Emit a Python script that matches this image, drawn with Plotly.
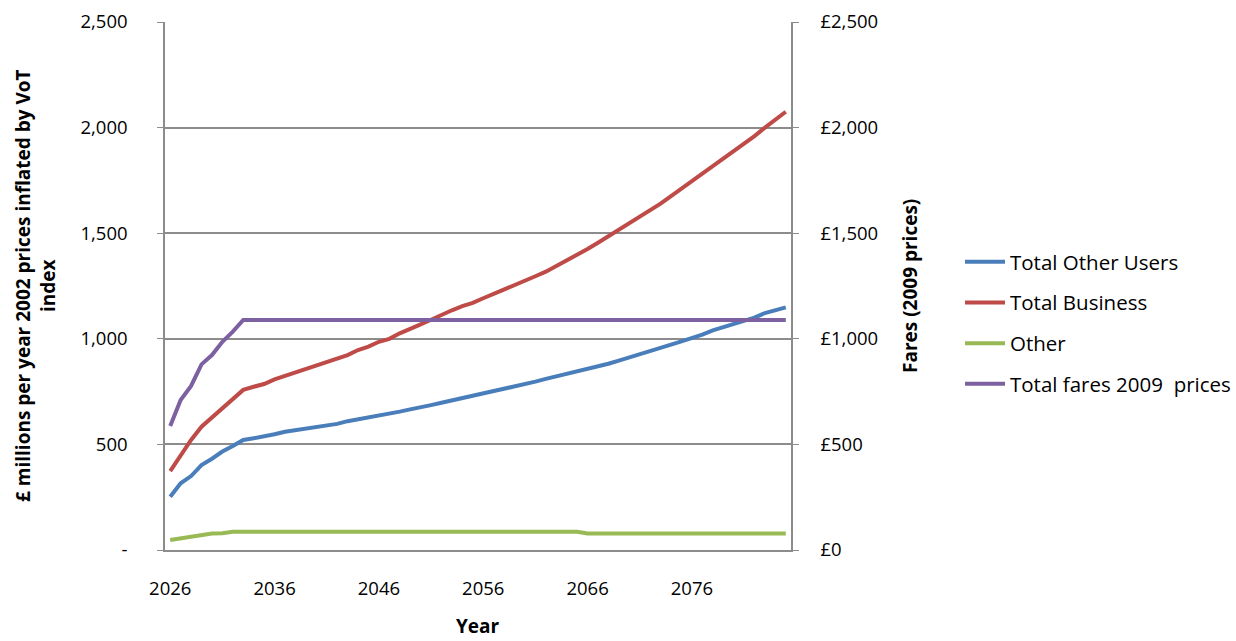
import plotly.graph_objects as go

# Appraisal years, one category per year
years = list(range(2026, 2086))

# £ millions per year, 2002 prices inflated by VoT index
total_other_users = [
    252, 316, 350, 402, 432, 466, 492, 521, 529, 537,
    548, 560, 568, 576, 584, 590, 597, 610, 619, 628,
    634, 647, 655, 666, 678, 686, 697, 708, 718, 730,
    740, 751, 762, 772, 783, 797, 810, 822, 834, 846,
    857, 868, 882, 897, 912, 923, 940, 957, 972, 988,
    1003, 1020, 1040, 1055, 1070, 1085, 1100, 1122, 1136, 1149,
]
total_business = [
    374, 450, 521, 584, 628, 675, 718, 758, 773, 786,
    808, 824, 840, 855, 871, 887, 907, 923, 947, 963,
    986, 1000, 1026, 1045, 1068, 1090, 1115, 1135, 1155, 1170,
    1192, 1212, 1235, 1257, 1275, 1296, 1318, 1345, 1368, 1400,
    1425, 1455, 1485, 1515, 1545, 1578, 1610, 1640, 1675, 1710,
    1745, 1780, 1815, 1850, 1885, 1920, 1960, 2000, 2038, 2075,
]
other = [47, 55, 63, 71, 78, 79, 86] + [86] * 33 + [78] * 20

# Fares, 2009 prices (right axis)
total_fares_2009 = [587, 710, 777, 879, 923, 986, 1034] + [1089] * 53

x_tick_years = [2026, 2036, 2046, 2056, 2066, 2076]
y_tick_values = [0, 500, 1000, 1500, 2000, 2500]
left_tick_text = ["-", "500", "1,000", "1,500", "2,000", "2,500"]
right_tick_text = ["£0", "£500", "£1,000", "£1,500", "£2,000", "£2,500"]

FONT = "Open Sans"
GRID = "#8c8c8c"
TICK_SIZE = 18.5
TITLE_SIZE = 19

fig = go.Figure()

series = [
    ("Total Other Users", total_other_users, "#4A7EBB", "y"),
    ("Total Business", total_business, "#BE4B48", "y"),
    ("Other", other, "#98B954", "y"),
    ("Total fares 2009  prices", total_fares_2009, "#7D60A0", "y2"),
]
for i, (name, vals, color, axis) in enumerate(series):
    fig.add_trace(go.Scatter(
        x=years, y=vals, name=name, mode="lines",
        line=dict(color=color, width=4),
        yaxis=axis, legendgroup=f"g{i}",
    ))

fig.update_layout(
    width=1236, height=641,
    margin=dict(l=165, r=445, t=22, b=91),
    paper_bgcolor="white", plot_bgcolor="white",
    font=dict(family=FONT, size=18, color="black"),
    showlegend=True,
    legend=dict(
        xref="container", yref="container",
        x=960 / 1236, y=1 - 242 / 641, xanchor="left", yanchor="top",
        font=dict(family=FONT, size=20.5, color="black"),
        tracegroupgap=11, traceorder="grouped",
        itemwidth=40, bgcolor="rgba(0,0,0,0)",
    ),
    xaxis=dict(
        range=[2025.5, 2085.5], automargin=False,
        tickmode="array", tickvals=x_tick_years,
        ticktext=[str(v) for v in x_tick_years],
        showgrid=False, zeroline=False,
        showline=True, linecolor=GRID, linewidth=1.5,
        ticks="", ticklabelstandoff=21,
        tickfont=dict(family=FONT, size=TICK_SIZE),
    ),
    yaxis=dict(
        range=[0, 2500], automargin=False,
        tickmode="array", tickvals=y_tick_values, ticktext=left_tick_text,
        showgrid=True, gridcolor=GRID, gridwidth=1.5,
        zeroline=False, showline=True, linecolor=GRID, linewidth=1.5,
        ticks="outside", ticklen=6, tickcolor=GRID, ticklabelstandoff=26,
        tickfont=dict(family=FONT, size=TICK_SIZE),
    ),
    yaxis2=dict(
        range=[0, 2500], overlaying="y", side="right", automargin=False,
        tickmode="array", tickvals=y_tick_values, ticktext=right_tick_text,
        showgrid=False, zeroline=False,
        showline=True, linecolor=GRID, linewidth=1.5,
        ticks="outside", ticklen=6, tickcolor=GRID, ticklabelstandoff=18,
        tickfont=dict(family=FONT, size=TICK_SIZE),
    ),
)

# Axis titles
fig.add_annotation(
    xref="paper", yref="paper", x=(35 - 165) / 626, y=0.5,
    text="<b>£ millions per year 2002 prices inflated by VoT<br>index</b>",
    textangle=-90, showarrow=False, xanchor="center", yanchor="middle",
    font=dict(family=FONT, size=TITLE_SIZE), align="center",
)
fig.add_annotation(
    xref="paper", yref="paper", x=(910 - 165) / 626, y=0.5,
    text="<b>Fares (2009 prices)</b>",
    textangle=-90, showarrow=False, xanchor="center", yanchor="middle",
    font=dict(family=FONT, size=TITLE_SIZE),
)
fig.add_annotation(
    xref="paper", yref="paper", x=(478 - 165) / 626, y=-(626 - 550) / 528,
    text="<b>Year</b>", showarrow=False, xanchor="center", yanchor="middle",
    font=dict(family=FONT, size=TITLE_SIZE),
)

fig.write_html("out.html")
